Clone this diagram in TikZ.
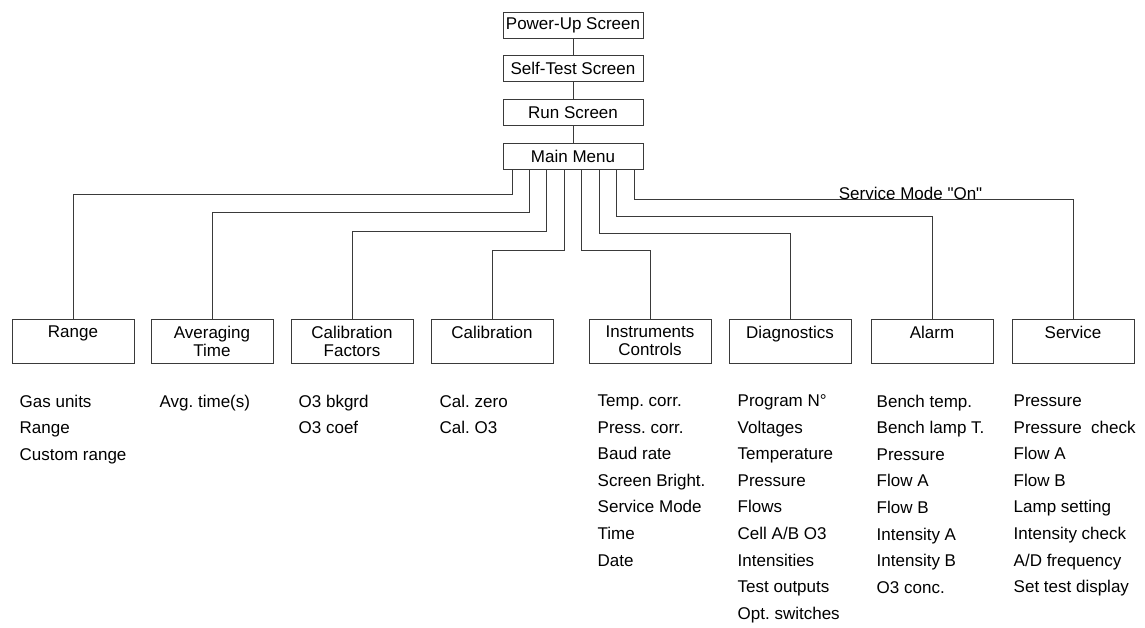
\documentclass[tikz,border=0pt]{standalone}
\usepackage{fontspec}
\setmainfont{Liberation Sans}[Ligatures=TeXOff]
\usetikzlibrary{positioning}
\frenchspacing
\definecolor{lineink}{HTML}{3a3a3a}
\tikzstyle{screenbox} = [draw=lineink, line width=1pt, rectangle,
    minimum width=140pt, minimum height=26pt, inner sep=0pt,
    font=\fontsize{17pt}{18pt}\selectfont]
\tikzstyle{menubox} = [draw=lineink, line width=1pt, rectangle,
    minimum width=122pt, minimum height=44pt, inner sep=0pt, align=center,
    font=\fontsize{17pt}{18pt}\selectfont]
\tikzstyle{itemlist} = [align=left, anchor=north west, inner sep=0pt,
    font=\fontsize{17pt}{26.6pt}\selectfont]
\tikzstyle{link} = [draw=lineink, line width=1pt]
\newcommand{\boxrow}{341}

\begin{document}
\begin{tikzpicture}[x=1pt,y=-1pt]
	\useasboundingbox (0,0) rectangle (1145,627);

	% screens
	\node[screenbox] (power) at (573,25) {Power-Up Screen};
	\node[screenbox] (selftest) at (573,68.5) {Self-Test Screen};
	\node[screenbox] (run) at (573,112.5) {Run Screen};
	\node[screenbox] (mainmenu) at (573,156.5) {Main Menu};

	\draw[link] (power) -- (selftest);
	\draw[link] (selftest) -- (run);
	\draw[link] (run) -- (mainmenu);

	% sub menus
	\node[menubox] (range) at (73,\boxrow) {Range\\~};
	\node[menubox] (avgtime) at (212,\boxrow) {Averaging\\Time};
	\node[menubox] (calfactors) at (352,\boxrow) {Calibration\\Factors};
	\node[menubox] (calib) at (492,\boxrow) {Calibration\\~};
	\node[menubox] (instruments) at (650,\boxrow) {Instruments\\Controls};
	\node[menubox] (diagnostics) at (790,\boxrow) {Diagnostics\\~};
	\node[menubox] (alarm) at (932,\boxrow) {Alarm\\~};
	\node[menubox] (service) at (1073,\boxrow) {Service\\~};

	% main menu -> sub menus
	\foreach \sub/\dx/\lvl in {range/-61/194, avgtime/-43.6/212,
		calfactors/-26.1/231, calib/-8.7/250, instruments/8.7/250,
		diagnostics/26.1/233, alarm/43.6/216}
		\draw[link] ([xshift=\dx pt]mainmenu.south) |- (\sub.north |- 0,\lvl) -- (\sub.north);

	\draw[link] ([xshift=61pt]mainmenu.south) |- (service.north |- 0,199)
		node[pos=0.815, anchor=base, font=\fontsize{17pt}{18pt}\selectfont] (svclabel) {Service Mode "On"}
		-- (service.north);

	% item lists
	\node[itemlist] (rangeitems) at ([shift={(8,31)}]range.south west)
		{Gas units\\Range\\Custom range};
	\node[itemlist] (avgitems) at ([shift={(9,31)}]avgtime.south west)
		{Avg. time(s)};
	\node[itemlist] (factoritems) at ([shift={(8,31)}]calfactors.south west)
		{O3 bkgrd\\O3 coef};
	\node[itemlist] (calitems) at ([shift={(9,31)}]calib.south west)
		{Cal. zero\\Cal. O3};
	\node[itemlist] (instritems) at ([shift={(9,31)}]instruments.south west)
		{Temp. corr.\\Press. corr.\\Baud rate\\Screen Bright.\\Service Mode\\Time\\Date};
	\node[itemlist] (diagitems) at ([shift={(9,31)}]diagnostics.south west)
		{Program N°\\Voltages\\Temperature\\Pressure\\Flows\\Cell A/B O3\\Intensities\\Test outputs\\Opt. switches};
	\node[itemlist] (alarmitems) at ([shift={(6,31)}]alarm.south west)
		{Bench temp.\\Bench lamp T.\\Pressure\\Flow A\\Flow B\\Intensity A\\Intensity B\\O3 conc.};
	\node[itemlist] (serviceitems) at ([shift={(2,31)}]service.south west)
		{Pressure\\Pressure\ \ check\\Flow A\\Flow B\\Lamp setting\\Intensity check\\A/D frequency\\Set test display};
\end{tikzpicture}
\end{document}
